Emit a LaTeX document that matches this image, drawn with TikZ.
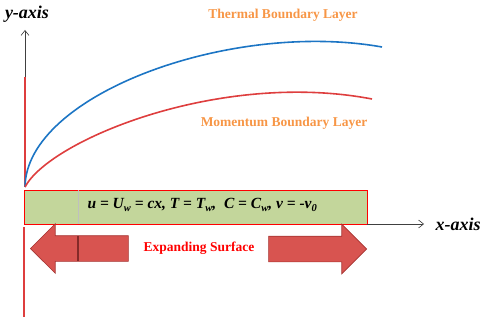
\documentclass[tikz,border=0pt]{standalone}
\usepackage{fontspec}
\setmainfont{Liberation Serif}
\usetikzlibrary{shapes.arrows, arrows.meta}
\definecolor{thermalblue}{RGB}{28,117,196}
\definecolor{momred}{RGB}{222,62,62}
\definecolor{layerorange}{RGB}{247,150,70}
\definecolor{platefill}{RGB}{195,214,155}
\definecolor{arrowfill}{RGB}{216,84,80}
\definecolor{arrowedge}{RGB}{165,52,50}
\newcommand{\lowsub}[1]{\raisebox{-2.5pt}{\fontsize{10.5}{10.5}\selectfont #1}}

\begin{document}
\begin{tikzpicture}[x=1pt, y=-1pt,
axislabel/.style={font=\fontsize{18}{18}\selectfont\bfseries\itshape},
layerlabel/.style={font=\fontsize{13.5}{14}\selectfont\bfseries, text=layerorange},
plate/.style={rectangle, draw=red, fill=platefill, line width=0.9pt, inner sep=0pt, minimum width=343pt, minimum height=34pt},
blockarrow/.style={single arrow, draw=arrowedge, fill=arrowfill, line width=0.6pt, inner sep=0pt, text height=25pt, text depth=0pt, text width=0pt, minimum height=98pt, single arrow head extend=12pt},
axis/.style={-{Straight Barb[length=5pt, width=8pt]}, black!75, line width=0.6pt}
]
\useasboundingbox (0,0) rectangle (484,323);
% Origin and axes
\coordinate (o) at (25,187);
\coordinate (ybreak) at (25,77);
\coordinate (ytop) at (25,30);
\draw[momred, line width=1.6pt] (o) -- (ybreak);
\draw[axis] (ybreak) -- (ytop);
\node[axislabel] (ylab) at (27,14) {y-axis};
% Stretching sheet
\node[plate] (surface) at (195.5,207) {};
\draw[black!25, line width=1pt] (78,190) -- (78,224);
\node[anchor=west, font=\fontsize{15.5}{16}\selectfont\bfseries\itshape] (bc) at (84,205)
  {u = U\lowsub{w} = cx, T = T\lowsub{w},\ \ C = C\lowsub{w}, v = -v\lowsub{0}};
\coordinate (xstart) at (367,224);
\coordinate (xend) at (424,224);
\draw[axis] (xstart) -- (xend);
\node[axislabel] (xlab) at (458,224) {x-axis};
\coordinate (lowtop) at (24,227);
\coordinate (lowbot) at (24,317);
\draw[momred, line width=1.6pt] (lowtop) -- (lowbot);
% Boundary layers
\draw[thermalblue, line width=1.6pt] (o) .. controls (26,95) and (230,20) .. (382,47);
\draw[momred, line width=1.6pt] (o) .. controls (50,140) and (220,70) .. (372,99);
\node[layerlabel] (thermal) at (283,15) {Thermal Boundary Layer};
\node[layerlabel] (momentum) at (284,123) {Momentum Boundary Layer};
% Expanding surface arrows
\node[blockarrow, shape border rotate=180, anchor=tip] (leftarr) at (30,248.5) {};
\node[blockarrow, anchor=tip] (rightarr) at (367,249) {};
\draw[arrowedge!80!black, line width=1.2pt] (78,236) -- (78,261);
\node[font=\fontsize{13.5}{14}\selectfont\bfseries, text=red] (expand) at (199,248) {Expanding Surface};
\end{tikzpicture}
\end{document}
